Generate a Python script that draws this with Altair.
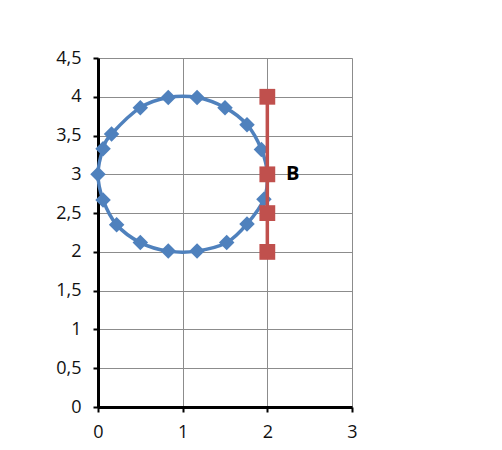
import altair as alt
import pandas as pd

circle_x = [0.0, 0.06, 0.16, 0.5, 0.83, 1.17, 1.5, 1.76, 1.93, 2.0, 1.96, 1.76, 1.52, 1.17, 0.83, 0.5, 0.22, 0.06]
circle_y = [3.0, 3.33, 3.52, 3.86, 3.99, 3.99, 3.86, 3.64, 3.32, 3.0, 2.68, 2.36, 2.12, 2.01, 2.01, 2.12, 2.35, 2.67]
seg_x = [2, 2, 2, 2]
seg_y = [4, 3, 2.5, 2]
label_text = ["B"]
label_x = [2.22]
label_y = [3.0]
x_ticks = [0, 1, 2, 3]
y_ticks = [0, 0.5, 1, 1.5, 2, 2.5, 3, 3.5, 4, 4.5]

blue = "#4F81BD"
red = "#C0504D"
FONT = "Open Sans"

df_c = pd.DataFrame({"x": circle_x, "y": circle_y, "i": range(len(circle_x))})
df_r = pd.DataFrame({"x": seg_x, "y": seg_y, "i": range(len(seg_x))})
df_l = pd.DataFrame({"x": label_x, "y": label_y, "t": label_text})

xs = alt.Scale(domain=[0, 3], nice=False, zero=False)
ys = alt.Scale(domain=[0, 4.5], nice=False, zero=False)

common = dict(title=None, grid=True, gridColor="#8c8c8c", gridWidth=1,
              domainColor="black", domainWidth=3, tickColor="black", tickWidth=2, tickSize=5,
              labelFont=FONT, labelFontSize=18, labelColor="#111", labelOverlap=False,
              labelFlush=False, labelExpr="replace(format(datum.value, '~g'), '.', ',')")
xax = alt.Axis(values=x_ticks, labelPadding=11, **common)
yax = alt.Axis(values=y_ticks, labelPadding=12, **common)

X = alt.X("x:Q", scale=xs, axis=xax)
Y = alt.Y("y:Q", scale=ys, axis=yax)

cline = alt.Chart(df_c).mark_line(color=blue, strokeWidth=3.5, interpolate="cardinal-closed").encode(
    x=X, y=Y, order="i:Q")
cpts = alt.Chart(df_c).mark_point(shape="diamond", filled=True, color=blue, size=240, opacity=1).encode(
    x=X, y=Y)
rline = alt.Chart(df_r).mark_line(color=red, strokeWidth=3.5).encode(
    x=X, y=Y, order="i:Q")
rpts = alt.Chart(df_r).mark_point(shape="square", filled=True, color=red, size=250, opacity=1).encode(
    x=X, y=Y)
lbl = alt.Chart(df_l).mark_text(font=FONT, fontSize=20, fontWeight="bold", color="black", align="left",
                                baseline="middle").encode(
    x=X, y=Y, text="t:N")

chart = alt.layer(cline, cpts, rline, rpts, lbl).properties(
    width=254, height=349,
    autosize=alt.AutoSizeParams(type="none"),
    padding={"left": 90, "top": 50, "right": 140, "bottom": 41},
).configure_view(stroke=None).configure(background="white")

chart.save("out.html", embed_options={"renderer": "svg", "actions": False})
